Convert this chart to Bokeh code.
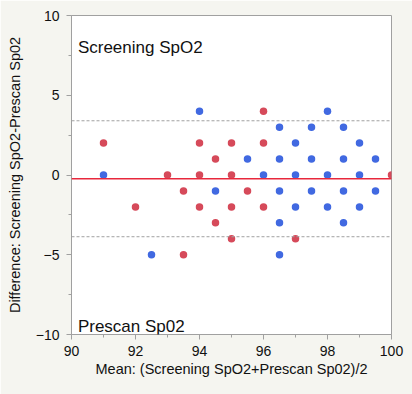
from bokeh.plotting import figure
from bokeh.models import Span, Label, FixedTicker, Range1d
from bokeh.embed import file_html
from bokeh.resources import INLINE

# Data: (mean, difference) pairs
red_x = [91, 92, 93, 93.5, 93.5, 94, 94, 94, 94.5, 94.5, 95, 95, 95, 95, 96, 96, 95.5, 96, 97, 100]
red_y = [2, -2, 0, -1, -5, 2, 0, -2, 1, -3, 2, 0, -2, -4, 4, 2, -1, -2, -4, 0]

blue_x = [91, 92.5, 94, 94.5, 95.5, 96, 96.5, 96.5, 96.5, 96.5, 96.5, 97, 97, 97,
          97.5, 97.5, 97.5, 98, 98, 98, 98.5, 98.5, 98.5, 98.5, 99, 99, 99, 99.5, 99.5]
blue_y = [0, -5, 4, -1, 1, 0, 3, 1, -1, -3, -5, 2, 0, -2,
          3, 1, -1, 4, 0, -2, 3, 1, -1, -3, 2, 0, -2, 1, -1]

mean_diff = -0.24
upper_loa = 3.40
lower_loa = -3.87

x_major = [90, 92, 94, 96, 98, 100]
x_minor = [91, 93, 95, 97, 99]
y_major = [-10, -5, 0, 5, 10]
y_minor = [-7.5, -2.5, 2.5, 7.5]

FONT = "Liberation Sans"
BG = "#F5F5F0"
AX = "#A0A0A0"

p = figure(width=412, height=394, output_backend="svg", toolbar_location=None,
           x_range=Range1d(90, 100), y_range=Range1d(-10, 10),
           min_border_left=71, min_border_right=21, min_border_top=15, min_border_bottom=60)
p.border_fill_color = BG
p.background_fill_color = "white"
p.outline_line_color = AX
p.xgrid.visible = False
p.ygrid.visible = False

p.xaxis.ticker = FixedTicker(ticks=x_major, minor_ticks=x_minor)
p.yaxis.ticker = FixedTicker(ticks=y_major, minor_ticks=y_minor)

for ax in (p.xaxis, p.yaxis):
    ax.axis_line_color = AX
    ax.major_tick_line_color = AX
    ax.minor_tick_line_color = AX
    ax.major_tick_out = 5
    ax.major_tick_in = 0
    ax.minor_tick_out = 3
    ax.minor_tick_in = 0
    ax.major_label_text_font = FONT
    ax.major_label_text_font_size = "14px"
    ax.major_label_text_color = "#111111"
    ax.axis_label_text_font = FONT
    ax.axis_label_text_font_size = "14.5px"
    ax.axis_label_text_font_style = "normal"
    ax.axis_label_text_color = "#111111"

p.xaxis.axis_label = "Mean: (Screening SpO2+Prescan Sp02)/2"
p.yaxis.axis_label = "Difference: Screening SpO2-Prescan Sp02"
p.xaxis.major_label_standoff = 6
p.xaxis.axis_label_standoff = 2
p.yaxis.major_label_standoff = 7
p.yaxis.axis_label_standoff = 10

p.add_layout(Span(location=upper_loa, dimension="width", line_color=AX,
                  line_dash="3 2", line_width=1))
p.add_layout(Span(location=lower_loa, dimension="width", line_color=AX,
                  line_dash="3 2", line_width=1))
p.add_layout(Span(location=mean_diff, dimension="width", line_color="#E8283C",
                  line_width=1.5))

p.scatter(red_x, red_y, size=7.5, color="#D64A5A", line_color=None)
p.scatter(blue_x, blue_y, size=7.5, color="#4169E1", line_color=None)

p.add_layout(Label(x=90.2, y=8.0, text="Screening SpO2", text_font=FONT,
                   text_font_size="17px", text_color="#111111", text_baseline="alphabetic"))
p.add_layout(Label(x=90.2, y=-9.5, text="Prescan Sp02", text_font=FONT,
                   text_font_size="17px", text_color="#111111", text_baseline="alphabetic"))

open("out.html", "w").write(file_html(p, INLINE))
